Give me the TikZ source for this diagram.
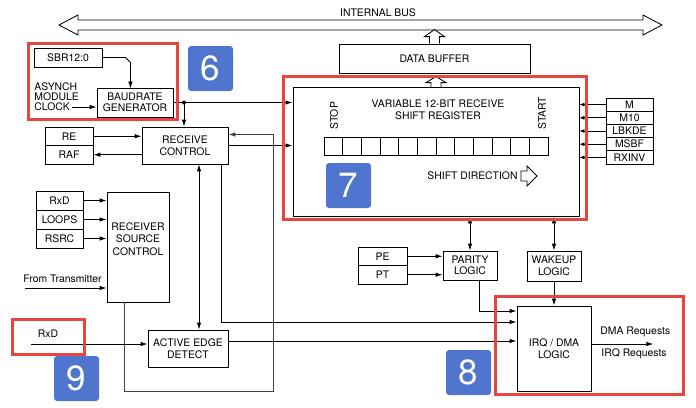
\documentclass[tikz,border=0pt]{standalone}
\usepackage{fontspec}
\setmainfont{TeX Gyre Heros}
\usepackage{xcolor}
\usetikzlibrary{arrows.meta}

\definecolor{badgeblue}{HTML}{4F75CE}
\definecolor{markred}{HTML}{E8453F}

\begin{document}
\begin{tikzpicture}[x=1pt, y=-1pt, line width=0.85pt,
	>={Latex[length=7pt,width=4.5pt]},
	font=\fontsize{10.4}{11.5}\selectfont,
	blk/.style={draw, inner sep=0pt, align=center},
	badge/.style={fill=badgeblue, rounded corners=3pt, minimum size=45pt, inner sep=0pt, text=white, font=\fontsize{35}{35}\selectfont},
	redframe/.style={draw=markred, line width=3pt},
	small/.style={-{Latex[length=5pt,width=4pt]}}]
	\fill [white] (0,0) rectangle (696,407);
	\useasboundingbox (0,0) rectangle (696,407);
	
	\draw (59,25) -- (78,15) -- (78,20) -- (643,20) -- (643,15) -- (662,25) -- (643,35) -- (643,30) -- (78,30) -- (78,35) -- cycle;
	\node (buslbl) at (378,13) {INTERNAL BUS};
	
	\node [blk, minimum width=68pt, minimum height=19pt] (sbr) at (68,57.5) {SBR12:0};
	\node [blk, minimum width=76pt, minimum height=29pt] (baud) at (135,102.5) {BAUDRATE\\GENERATOR};
	\node [anchor=west, align=left, inner sep=0pt, font=\fontsize{10.4}{10}\selectfont] (clk) at (34,97) {ASYNCH\\MODULE\\CLOCK};
	\coordinate (clkout) at (72,107);
	
	\node [blk, minimum width=191pt, minimum height=29pt] (buf) at (434.5,58.5) {DATA BUFFER};
	\node [blk, minimum width=286pt, minimum height=129pt] (shr) at (436,151.5) {};
	\node [align=center, font=\fontsize{10.4}{12}\selectfont] (shrlbl) at (438,110) {VARIABLE 12-BIT RECEIVE\\SHIFT REGISTER};
	\node [rotate=90, anchor=west, inner sep=0pt] (stop) at (334,130) {STOP};
	\node [rotate=90, anchor=west, inner sep=0pt] (start) at (542,130) {START};
	\draw (324,137) rectangle (548,155);
	\foreach \i in {1,...,11}
		\draw ({324+\i*224/12},137) -- ++(0,18);
	\node [anchor=east, inner sep=0pt] (shdir) at (518,176) {SHIFT DIRECTION};
	\draw ([xshift=3pt, yshift=5pt]shdir.east) -- ++(6,0) -- ++(0,-5) -- ++(10,10) -- ++(-10,10) -- ++(0,-5) -- ++(-6,0) -- cycle;
	
	\node [blk, minimum width=47pt, minimum height=13.2pt] (m) at (629.5,104.6) {M};
	\node [blk, minimum width=47pt, minimum height=13.2pt] (mten) at (629.5,117.8) {M10};
	\node [blk, minimum width=47pt, minimum height=13.2pt] (lbkde) at (629.5,131) {LBKDE};
	\node [blk, minimum width=47pt, minimum height=13.2pt] (msbf) at (629.5,144.2) {MSBF};
	\node [blk, minimum width=47pt, minimum height=13.2pt] (rxinv) at (629.5,157.4) {RXINV};
	
	\node [blk, minimum width=86pt, minimum height=37pt] (rc) at (185,145.5) {RECEIVE\\CONTROL};
	\node [blk, minimum width=48pt, minimum height=18.5pt] (re) at (69,136.25) {RE};
	\node [blk, minimum width=48pt, minimum height=18.5pt] (raf) at (69,154.75) {RAF};
	
	\node [blk, minimum width=47pt, minimum height=19pt] (rxd) at (59.5,200.5) {RxD};
	\node [blk, minimum width=47pt, minimum height=19pt] (loops) at (59.5,219.5) {LOOPS};
	\node [blk, minimum width=47pt, minimum height=19pt] (rsrc) at (59.5,238.5) {RSRC};
	\node [blk, minimum width=62pt, minimum height=110pt] (rsc) at (138,247) {};
	\node [align=center, font=\fontsize{10.4}{12.5}\selectfont] (rsclbl) at (138,239) {RECEIVER\\SOURCE\\CONTROL};
	\node [anchor=base west, inner sep=0pt] (ftx) at (23,282) {From Transmitter};
	\coordinate (ftxin) at (25,288);
	
	\node [inner sep=0pt] (rxdlbl) at (48,334) {RxD};
	\coordinate (rxdin) at (31,344);
	\node [blk, minimum width=80pt, minimum height=37pt] (aed) at (188,348.5) {ACTIVE EDGE\\DETECT};
	
	\node [blk, minimum width=49pt, minimum height=18.5pt] (pe) at (382.5,256.25) {PE};
	\node [blk, minimum width=49pt, minimum height=18.5pt] (pt) at (382.5,274.75) {PT};
	\node [blk, minimum width=54pt, minimum height=29pt] (par) at (470,265.5) {PARITY\\LOGIC};
	\node [blk, minimum width=54pt, minimum height=30pt] (wake) at (554,266) {WAKEUP\\LOGIC};
	\node [blk, minimum width=74pt, minimum height=85pt] (irq) at (554,348.5) {IRQ / DMA\\LOGIC};
	\node [anchor=west, inner sep=0pt] (dmareq) at (600,332) {DMA Requests};
	\node [anchor=west, inner sep=0pt] (irqreq) at (601,354) {IRQ Requests};
	
	\draw [->] (sbr.east) -- ++(23,0) -- ++(5,5) -- ++(0,26);
	\draw [->] (clkout) -- (clkout -| baud.west);
	\coordinate (bdot) at (184,102.5);
	\draw [->] (baud.east) -- (baud.east -| shr.west);
	\fill (bdot) circle [radius=2pt];
	\draw [->] (bdot) -- (bdot |- rc.north);
	\draw [fill=white] ([xshift=-5pt]buf.north) -- ++(0,-7) -- ++(-5,0) -- ++(10,-7) -- ++(10,7) -- ++(-5,0) -- ++(0,7);
	\draw [fill=white] ([xshift=-5pt]shr.north) -- ++(0,-4) -- ++(-5,0) -- ++(10,-6) -- ++(10,6) -- ++(-5,0) -- ++(0,4);
	\foreach \n in {m,mten,lbkde,msbf,rxinv}
		\draw [small] (\n.west) -- (\n.west -| shr.east);
	
	\draw [->] (re.east) -- (re.east -| rc.west);
	\draw [->] (raf.east -| rc.west) -- (raf.east);
	\draw [->] (rc.east) -- (rc.east -| shr.west);
	\coordinate (rsc out) at ([xshift=-14pt]rsc.south);
	\coordinate (rc in) at ([yshift=11pt]rc.east);
	\draw [->, black!75] (rsc out) |- (273,391) |- (rc in);
	\coordinate (rc edge) at ([xshift=14pt]rc.south);
	\draw [<->] (rc edge) -- (rc edge |- aed.north);
	\coordinate (rc irq) at ([xshift=36pt]rc.south);
	\coordinate (irq a) at ([yshift=26.5pt]irq.west);
	\draw [->] (rc irq) |- (irq a);
	\coordinate (aed out) at ([yshift=7.5pt]aed.east);
	\draw [->] (aed out) -- (aed out -| irq.west);
	
	\draw [->] (rxd.east) -- (rxd.east -| rsc.west);
	\draw [->] (loops.east) -- (loops.east -| rsc.west);
	\draw [->] (rsrc.east) -- (rsrc.east -| rsc.west);
	\draw [->] (ftxin) -- (ftxin -| rsc.west);
	\draw [->] (rxdin) -- (rxdin -| aed.west);
	
	\draw [->] (pe.east) -- (pe.east -| par.west);
	\draw [->] (pt.east) -- (pt.east -| par.west);
	\draw [<->] (par.north |- shr.south) -- (par.north);
	\draw [<->] (wake.north |- shr.south) -- (wake.north);
	\coordinate (par out) at ([xshift=9pt]par.south);
	\coordinate (irq b) at ([yshift=37.5pt]irq.west);
	\draw [->] (par out) |- (irq b);
	\draw [->] (wake.south) -- (wake.south |- irq.north);
	\coordinate (irq out) at ([yshift=4.5pt]irq.east);
	\draw [->] (irq out) -- ++(62,0);
	
	\draw [redframe] (28,43) rectangle (177,119);
	\draw [redframe] (283,76) rectangle (586,219);
	\draw [redframe] (495,296) rectangle (683,394);
	\draw [redframe] (12,319) rectangle (84,354);
	\node [badge] (six) at (210.5,68.5) {6};
	\node [badge] (seven) at (348.5,185.5) {7};
	\node [badge] (eight) at (468.5,372.5) {8};
	\node [badge] (nine) at (76.5,378.5) {9};
\end{tikzpicture}
\end{document}
